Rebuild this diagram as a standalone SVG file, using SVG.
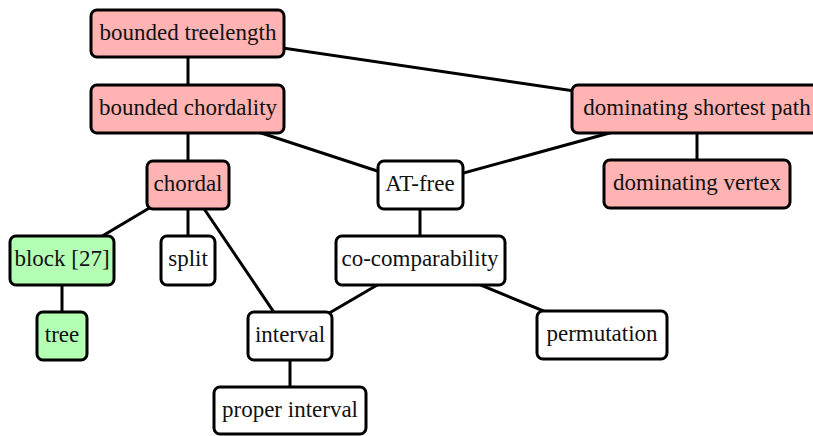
<svg xmlns="http://www.w3.org/2000/svg" width="813" height="436" viewBox="0 0 813 436">
<style>
.n rect{stroke:#000;stroke-width:3;fill:#fff}
.n.r rect{fill:#ffb3b3}
.n.g rect{fill:#b3ffb3}
.n text{font-size:23px;fill:#111;text-anchor:middle}
#edges line{stroke:#000;stroke-width:3}
</style>
<rect width="813" height="436" fill="#fff"/>
<g id="edges">
<line x1="188" y1="34" x2="188" y2="109"/>
<line x1="188" y1="34" x2="697" y2="109"/>
<line x1="188" y1="109" x2="188" y2="185"/>
<line x1="188" y1="109" x2="420" y2="185"/>
<line x1="697" y1="109" x2="420" y2="185"/>
<line x1="697" y1="109" x2="697" y2="184"/>
<line x1="188" y1="185" x2="62" y2="260"/>
<line x1="188" y1="185" x2="188" y2="260"/>
<line x1="188" y1="185" x2="290" y2="336"/>
<line x1="62" y1="260" x2="62" y2="336"/>
<line x1="420" y1="185" x2="420" y2="260"/>
<line x1="420" y1="260" x2="290" y2="336"/>
<line x1="420" y1="260" x2="602" y2="335"/>
<line x1="290" y1="336" x2="290" y2="411"/>
</g>
<g font-family="Liberation Serif, DejaVu Serif, serif">
<g id="bounded-treelength" class="n r"><rect x="91" y="10" width="193" height="47" rx="6"/><text x="188" y="40">bounded treelength</text></g>
<g id="bounded-chordality" class="n r"><rect x="91" y="85" width="193" height="48" rx="6"/><text x="188" y="115">bounded chordality</text></g>
<g id="dominating-shortest-path" class="n r"><rect x="572" y="85" width="250" height="48" rx="6"/><text x="697" y="115">dominating shortest path</text></g>
<g id="dominating-vertex" class="n r"><rect x="604" y="160" width="186" height="48" rx="6"/><text x="697" y="190">dominating vertex</text></g>
<g id="chordal" class="n r"><rect x="147" y="161" width="82" height="48" rx="6"/><text x="188" y="191">chordal</text></g>
<g id="at-free" class="n"><rect x="378" y="161" width="85" height="48" rx="6"/><text x="420" y="191">AT-free</text></g>
<g id="block" class="n g"><rect x="10" y="236" width="104" height="49" rx="6"/><text x="62" y="266">block [27]</text></g>
<g id="split" class="n"><rect x="161" y="236" width="54" height="49" rx="6"/><text x="188" y="266">split</text></g>
<g id="co-comparability" class="n"><rect x="336" y="236" width="169" height="49" rx="6"/><text x="420" y="266">co-comparability</text></g>
<g id="tree" class="n g"><rect x="37" y="312" width="50" height="48" rx="6"/><text x="62" y="342">tree</text></g>
<g id="interval" class="n"><rect x="248" y="312" width="84" height="48" rx="6"/><text x="290" y="342">interval</text></g>
<g id="permutation" class="n"><rect x="537" y="311" width="130" height="48" rx="6"/><text x="602" y="341">permutation</text></g>
<g id="proper-interval" class="n"><rect x="214" y="387" width="152" height="47" rx="6"/><text x="290" y="417">proper interval</text></g>
</g>
</svg>
